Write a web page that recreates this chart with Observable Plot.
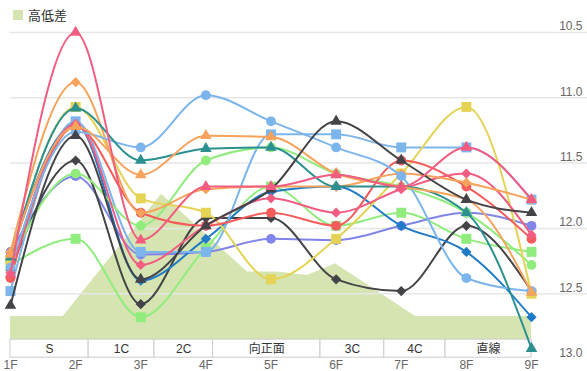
<!DOCTYPE html>
<html><head><meta charset="utf-8">
<script src="https://cdn.jsdelivr.net/npm/d3@7"></script>
<script src="https://cdn.jsdelivr.net/npm/@observablehq/plot@0.6"></script>
<style>
body{margin:0;background:#fff;font-family:"Liberation Sans","Noto Sans CJK JP",sans-serif;}
#wrap{position:relative;width:587px;height:371px;}
#legend{position:absolute;left:13px;top:5px;display:flex;align-items:center;font-size:13px;color:#333;z-index:2;font-family:"Noto Sans CJK JP",sans-serif}
#legend .sw{width:10px;height:10px;background:#d5e4b0;margin-right:5px;display:inline-block}
</style></head><body>
<div id="wrap"><div id="legend"><span class="sw"></span><span>高低差</span></div><div id="chart"></div></div>
<script>
const categories = ["1F","2F","3F","4F","5F","6F","7F","8F","9F"];
const yTicks = [10.5, 11, 11.5, 12, 12.5, 13];
const gridTicks = [10.5, 11, 11.5, 12, 12.5];

// elevation profile (高低差), positions in furlong index units
const elevationX = [0, 0.81, 2.32, 3.64, 4.10, 4.56, 4.99, 6.22, 8];
const elevationV = [12.674, 12.674, 11.738, 12.334, 12.334, 12.36, 12.27, 12.674, 12.674];

// course sections
const sectionBounds = [0, 1.2, 2.21, 3.11, 4.76, 5.74, 6.68, 8];
const sectionLabels = ["S", "1C", "2C", "向正面", "3C", "4C", "直線"];

// series values (1F..9F)
const pinkTriangle   = [12.35, 10.5, 12.09, 11.68, 11.68, 11.59, 11.68, 11.38, 11.78];
const orangeDiamond  = [12.18, 10.88, 11.88, 11.70, 11.68, 11.68, 11.58, 11.65, 11.78];
const orangeTriangle = [12.20, 11.22, 11.59, 11.29, 11.30, 11.58, 11.68, 11.78, 12.49];
const tealTriangle   = [12.22, 11.08, 11.48, 11.39, 11.38, 11.68, 11.68, 11.88, 12.92];
const yellowSquare   = [12.24, 11.07, 11.77, 11.88, 12.39, 12.08, 11.58, 11.07, 12.50];
const lightBlueCircle= [12.30, 11.26, 11.38, 10.98, 11.18, 11.38, 11.60, 12.38, 12.48];
const lightBlueSquare= [12.48, 11.18, 12.18, 12.18, 11.28, 11.28, 11.38, 11.38, 11.78];
const darkTriangle   = [12.59, 11.29, 12.39, 11.98, 11.70, 11.18, 11.48, 11.78, 11.88];
const darkDiamond    = [12.32, 11.48, 12.58, 11.92, 11.92, 12.39, 12.48, 11.98, 12.48];
const greenCircle    = [12.26, 11.58, 11.98, 11.48, 11.38, 11.58, 11.68, 11.88, 12.28];
const greenSquare    = [12.28, 12.08, 12.68, 12.15, 11.68, 11.98, 11.88, 12.08, 12.18];
const purpleCircle   = [12.18, 11.60, 12.20, 12.18, 12.08, 12.09, 11.98, 11.88, 11.98];
const redCircle      = [12.38, 11.22, 11.88, 11.98, 11.88, 11.98, 11.48, 11.68, 12.08];
const pinkDiamond    = [12.34, 11.20, 12.28, 11.98, 11.77, 11.88, 11.70, 11.58, 12.05];
const blueDiamond    = [12.21, 11.20, 12.40, 12.08, 11.72, 11.68, 11.98, 12.18, 12.68];

const seriesList = [
  {values: greenSquare,     color: "#90ed7d", symbol: "square"},
  {values: purpleCircle,    color: "#8085e9", symbol: "circle"},
  {values: darkDiamond,     color: "#434348", symbol: "diamond2"},
  {values: blueDiamond,     color: "#1f7bc8", symbol: "diamond2"},
  {values: lightBlueSquare, color: "#7cb5ec", symbol: "square"},
  {values: greenCircle,     color: "#90ed7d", symbol: "circle"},
  {values: yellowSquare,    color: "#e4d354", symbol: "square"},
  {values: redCircle,       color: "#f45b5b", symbol: "circle"},
  {values: pinkDiamond,     color: "#f15c80", symbol: "diamond2"},
  {values: orangeDiamond,   color: "#f7a35c", symbol: "diamond2"},
  {values: lightBlueCircle, color: "#7cb5ec", symbol: "circle"},
  {values: tealTriangle,    color: "#2b908f", symbol: "triangle"},
  {values: orangeTriangle,  color: "#f7a35c", symbol: "triangle"},
  {values: darkTriangle,    color: "#434348", symbol: "triangle"},
  {values: pinkTriangle,    color: "#f15c80", symbol: "triangle"}
];
const symbolR = {circle: 4.9, square: 5.6, triangle: 4.3, diamond2: 4.6};

const bandTop = 12.852, bandBottom = 12.99;
const elevation = elevationX.map((x, i) => ({x, v: elevationV[i]}));
const sections = sectionLabels.map((label, i) => ({label, x1: sectionBounds[i], x2: sectionBounds[i + 1]}));

const marks = [
  Plot.areaY(elevation, {x: "x", y1: () => bandTop, y2: "v", fill: "#d5e4b0"}),
  Plot.ruleY(gridTicks, {stroke: "#e6e6e6", strokeWidth: 1.5, insetRight: -56}),
  Plot.rect(sections, {x1: "x1", x2: "x2", y1: () => bandTop, y2: () => bandBottom, fill: "white", stroke: "#cccccc", strokeWidth: 1}),
  Plot.text(sections, {x: d => (d.x1 + d.x2) / 2, y: () => (bandTop + bandBottom) / 2, text: "label", fontSize: 12, fill: "#333"})
];
for (const s of seriesList) {
  const data = s.values.map((v, i) => ({i, v}));
  marks.push(Plot.line(data, {x: "i", y: "v", stroke: s.color, strokeWidth: 2, curve: "monotone-x"}));
  marks.push(Plot.dot(data, {x: "i", y: "v", fill: s.color, symbol: s.symbol, r: symbolR[s.symbol], stroke: "none"}));
}
marks.push(Plot.axisY(yTicks, {anchor: "right", tickSize: 0, tickPadding: 0, textAnchor: "end", dx: 51, dy: -6, fontSize: 12, color: "#666", label: null}));
marks.push(Plot.axisX(d3.range(9), {tickSize: 0, tickPadding: 1, tickFormat: i => categories[i], fontSize: 12, color: "#666", label: null}));

const chart = Plot.plot({
  width: 587,
  height: 371,
  marginLeft: 10,
  marginRight: 56,
  marginTop: 32,
  marginBottom: 12.5,
  style: {fontFamily: "'Liberation Sans','Noto Sans CJK JP',sans-serif", background: "white", overflow: "visible"},
  x: {type: "linear", domain: [0, 8]},
  y: {domain: [10.5, 13], reverse: true},
  marks
});
document.getElementById("chart").appendChild(chart);
</script>
</body></html>
